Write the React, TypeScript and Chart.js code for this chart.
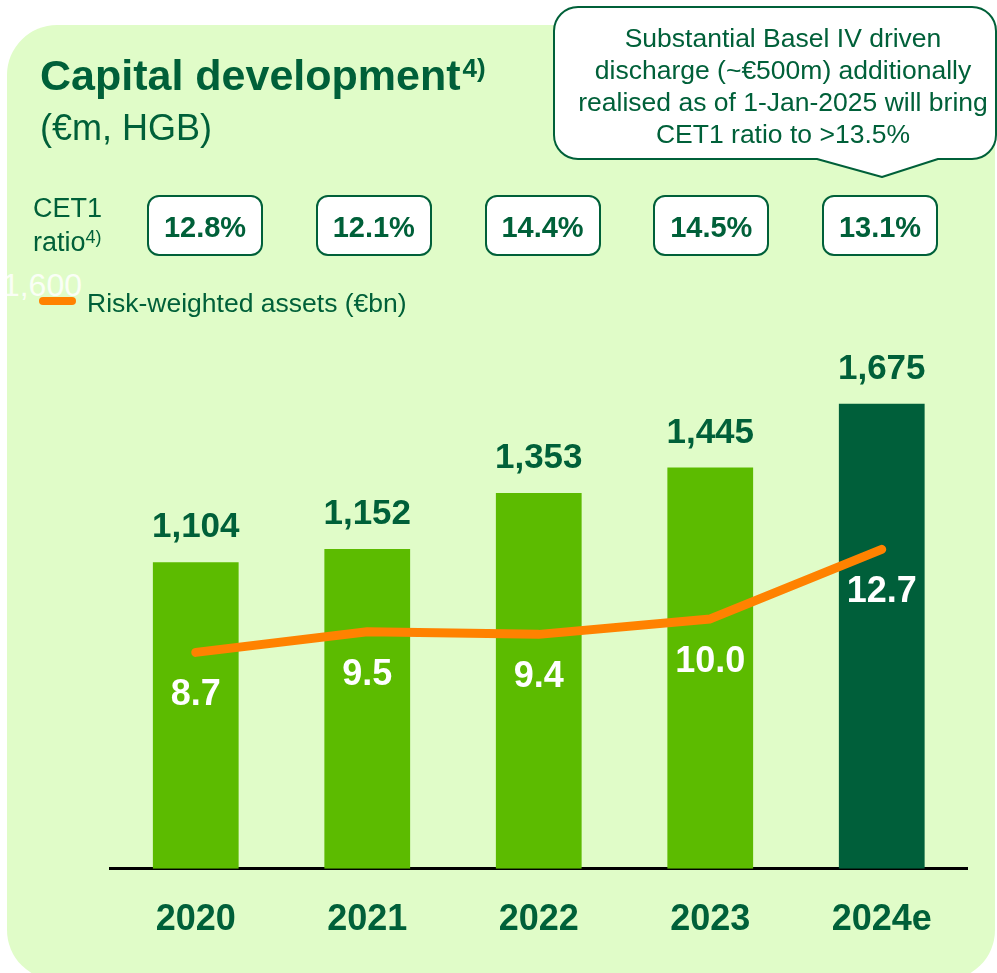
import React, { useEffect, useRef } from "react";
import { Chart, registerables } from "chart.js";

Chart.register(...registerables);

// ---- data ----
const years = ["2020", "2021", "2022", "2023", "2024e"];
const capital = [1104, 1152, 1353, 1445, 1675];
const rwa = [8.7, 9.5, 9.4, 10.0, 12.7];
const cet1Ratios = ["12.8%", "12.1%", "14.4%", "14.5%", "13.1%"];
const calloutLines = [
  "Substantial Basel IV driven",
  "discharge (~€500m) additionally",
  "realised as of 1-Jan-2025 will bring",
  "CET1 ratio to >13.5%",
];

// ---- styles ----
const FONT = "'Liberation Sans', Arial, Helvetica, sans-serif";
const DARK_TEXT = "#006039";
const LIGHT_BAR = "#5CBB00";
const DARK_BAR = "#005F3A";
const ORANGE = "#FF8200";
const PANEL = "#E0FCC8";

const fmt = (v: number) => String(v).replace(/\B(?=(\d{3})+(?!\d))/g, ",");

const valueLabels = {
  id: "valueLabels",
  afterDatasetsDraw(chart: any) {
    const ctx = chart.ctx;
    const barMeta = chart.getDatasetMeta(0);
    const lineMeta = chart.getDatasetMeta(1);
    ctx.save();
    ctx.textAlign = "center";
    ctx.textBaseline = "alphabetic";
    ctx.font = `bold 35px ${FONT}`;
    ctx.fillStyle = DARK_TEXT;
    barMeta.data.forEach((el: any, i: number) => {
      ctx.fillText(fmt(capital[i]), el.x, el.y - 25);
    });
    ctx.font = `bold 36px ${FONT}`;
    ctx.fillStyle = "#FFFFFF";
    lineMeta.data.forEach((el: any, i: number) => {
      ctx.fillText(rwa[i].toFixed(1), el.x, el.y + 53);
    });
    ctx.restore();
  },
};

function CapitalChart() {
  const ref = useRef<HTMLCanvasElement | null>(null);
  useEffect(() => {
    if (!ref.current) return;
    const last = capital.length - 1;
    const chart = new Chart(ref.current, {
      type: "bar",
      data: {
        labels: years,
        datasets: [
          {
            type: "bar",
            label: "Capital (€m)",
            data: capital,
            backgroundColor: (c: any) => (c.dataIndex === last ? DARK_BAR : LIGHT_BAR),
            borderWidth: 0,
            barPercentage: 0.5,
            categoryPercentage: 1,
            yAxisID: "y",
            order: 2,
          } as any,
          {
            type: "line",
            label: "Risk-weighted assets (€bn)",
            data: rwa,
            borderColor: ORANGE,
            backgroundColor: ORANGE,
            borderWidth: 9,
            borderCapStyle: "round",
            borderJoinStyle: "round",
            pointRadius: 0,
            tension: 0,
            yAxisID: "y1",
            order: 1,
          } as any,
        ],
      },
      options: {
        responsive: false,
        animation: false,
        devicePixelRatio: 1,
        layout: { padding: { left: 110, right: 29.5, top: 369, bottom: 1 } },
        plugins: { legend: { display: false }, tooltip: { enabled: false } },
        scales: {
          x: {
            grid: { display: false, drawTicks: false },
            border: { display: true, color: "#000000", width: 3 },
            ticks: {
              color: DARK_TEXT,
              padding: 30,
              font: { family: FONT, size: 36, weight: "bold", lineHeight: 1.2 },
            },
          },
          y: { display: false, min: 0, max: 1800 },
          y1: { display: false, min: 0.3, max: 19.7 },
        },
      } as any,
      plugins: [valueLabels],
    });
    return () => chart.destroy();
  }, []);
  return (
    <canvas
      ref={ref}
      width={997}
      height={973}
      style={{ position: "absolute", left: 0, top: 0, width: 997, height: 973 }}
    />
  );
}

export default function App() {
  const calloutPath =
    "M 578 7 H 972 A 24 24 0 0 1 996 31 V 135 A 24 24 0 0 1 972 159 H 938 L 882 177 L 817 159 H 578 A 24 24 0 0 1 554 135 V 31 A 24 24 0 0 1 578 7 Z";
  return (
    <div
      style={{
        position: "absolute",
        left: 0,
        top: 0,
        width: 997,
        height: 973,
        overflow: "hidden",
        fontFamily: FONT,
        color: DARK_TEXT,
        background: "#FFFFFF",
      }}
    >
      {/* panel */}
      <div
        style={{
          position: "absolute",
          left: 7,
          top: 25,
          width: 988,
          height: 955,
          background: PANEL,
          borderRadius: 50,
        }}
      />
      {/* faint leftover tick label */}
      <div
        style={{
          position: "absolute",
          left: -40,
          width: 122,
          top: 268,
          fontSize: 32,
          lineHeight: "34px",
          textAlign: "right",
          color: "rgba(255,255,255,0.85)",
        }}
      >
        1,600
      </div>
      <CapitalChart />
      {/* title */}
      <div
        style={{
          position: "absolute",
          left: 40,
          top: 50,
          fontSize: 43,
          lineHeight: "50px",
          fontWeight: "bold",
          whiteSpace: "nowrap",
        }}
      >
        Capital development
        <span style={{ fontSize: 26, position: "relative", top: -13, marginLeft: 2 }}>4)</span>
      </div>
      <div
        style={{
          position: "absolute",
          left: 40,
          top: 106,
          fontSize: 36,
          lineHeight: "44px",
          whiteSpace: "nowrap",
        }}
      >
        (€m, HGB)
      </div>
      {/* callout */}
      <svg
        width={997}
        height={200}
        style={{ position: "absolute", left: 0, top: 0 }}
      >
        <path d={calloutPath} fill="#FFFFFF" stroke={DARK_TEXT} strokeWidth={2} strokeLinejoin="round" />
      </svg>
      <div
        style={{
          position: "absolute",
          left: 562,
          width: 442,
          top: 22,
          fontSize: 26.5,
          lineHeight: "32px",
          textAlign: "center",
          whiteSpace: "nowrap",
        }}
      >
        {calloutLines.map((l) => (
          <div key={l}>{l}</div>
        ))}
      </div>
      {/* CET1 label */}
      <div
        style={{
          position: "absolute",
          left: 33,
          top: 191,
          fontSize: 27,
          lineHeight: "34px",
          whiteSpace: "nowrap",
        }}
      >
        <div>CET1</div>
        <div>
          ratio<span style={{ fontSize: 18, position: "relative", top: -8 }}>4)</span>
        </div>
      </div>
      {/* CET1 boxes */}
      <div
        style={{
          position: "absolute",
          left: 147,
          top: 195,
          display: "flex",
          gap: "52.75px",
        }}
      >
        {cet1Ratios.map((r, i) => (
          <div
            key={i}
            style={{
              width: 116,
              height: 61,
              boxSizing: "border-box",
              border: `2px solid ${DARK_TEXT}`,
              borderRadius: 12,
              background: "#FFFFFF",
              display: "flex",
              alignItems: "center",
              justifyContent: "center",
              fontSize: 29,
              fontWeight: "bold",
              lineHeight: "34px",
              paddingTop: 2,
            }}
          >
            {r}
          </div>
        ))}
      </div>
      {/* legend */}
      <div
        style={{
          position: "absolute",
          left: 39,
          top: 297,
          width: 37,
          height: 8,
          borderRadius: 4,
          background: ORANGE,
        }}
      />
      <div
        style={{
          position: "absolute",
          left: 87,
          top: 287,
          fontSize: 26.5,
          lineHeight: "32px",
          whiteSpace: "nowrap",
        }}
      >
        Risk-weighted assets (€bn)
      </div>
    </div>
  );
}
